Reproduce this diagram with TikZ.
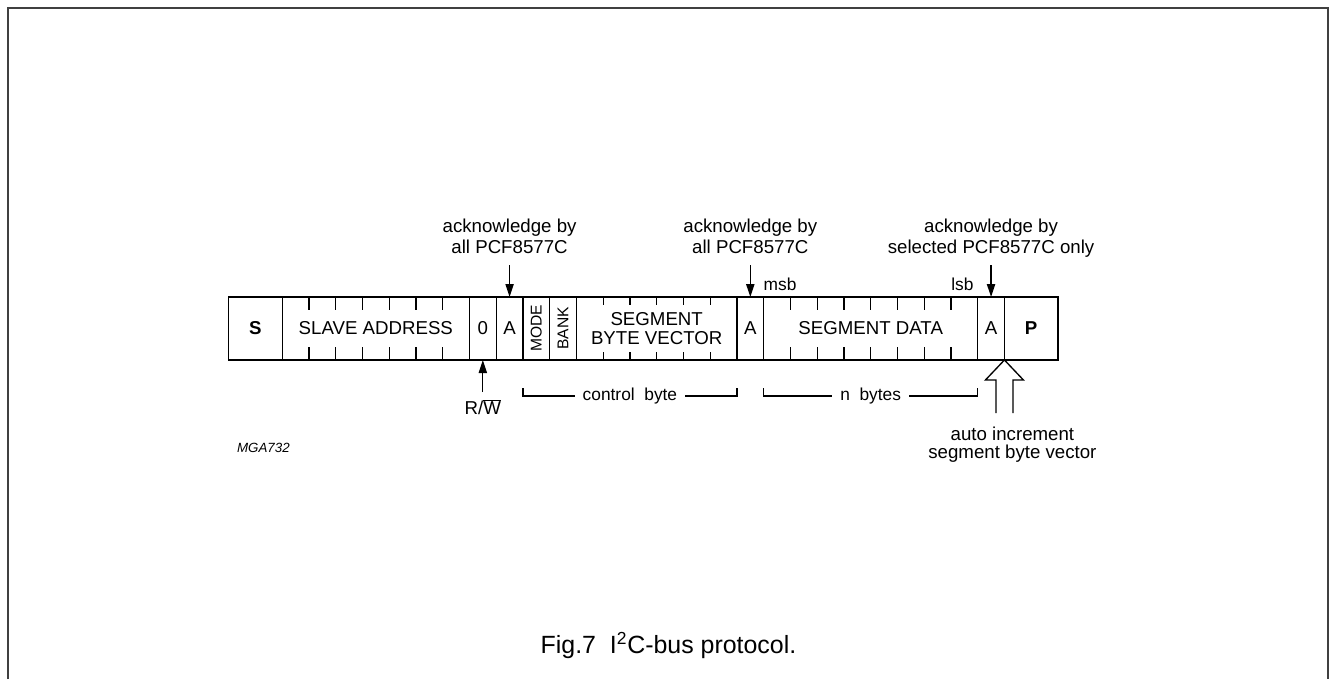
\documentclass[tikz,border=0pt]{standalone}
\usepackage{fontspec}
\setmainfont{Liberation Sans}
\usetikzlibrary{arrows.meta, positioning, calc}
\tikzstyle{cell} = [rectangle, draw=black, minimum height=47.25pt, inner sep=0pt, outer sep=0pt, font=\fontsize{14}{14}\selectfont]
\tikzstyle{note} = [inner sep=0pt, outer sep=0pt, align=center, text depth=0pt, font=\fontsize{14}{15.75}\selectfont]
\tikzstyle{small} = [inner sep=0pt, outer sep=0pt, font=\fontsize{13}{13}\selectfont]
\tikzstyle{gap} = [fill=white, inner xsep=6pt, inner ysep=0pt]
\tikzstyle{arr} = [-{Triangle[length=9.75pt, width=6.2pt]}]

\begin{document}
\begin{tikzpicture}[x=0.75pt, y=-0.75pt, line width=1pt]
\useasboundingbox (0,0) rectangle (1329,679);
\draw[black!75, line width=1.5pt] (8,679) -- (8,8) -- (1328,8) -- (1328,679);

% the bus frame
\node (s) [cell, minimum width=40.125pt, anchor=north west, font=\fontsize{14}{14}\selectfont\bfseries] at (228.7,297) {S};
\node (addr) [cell, minimum width=140.44pt, right=0pt of s] {SLAVE ADDRESS};
\node (zero) [cell, minimum width=20.06pt, right=0pt of addr] {0};
\node (a1) [cell, minimum width=20.06pt, right=0pt of zero] {A};
\node (mode) [cell, minimum width=20.06pt, right=0pt of a1, font=\fontsize{11.7}{11.7}\selectfont] {\rotatebox{90}{MODE}};
\node (bank) [cell, minimum width=20.06pt, right=0pt of mode, font=\fontsize{11.7}{11.7}\selectfont] {\rotatebox{90}{BANK}};
\node (sbv) [cell, minimum width=120.375pt, right=0pt of bank, align=center] {SEGMENT\\BYTE VECTOR};
\node (a2) [cell, minimum width=20.06pt, right=0pt of sbv] {A};
\node (data) [cell, minimum width=160.5pt, right=0pt of a2] {SEGMENT DATA};
\node (a3) [cell, minimum width=20.06pt, right=0pt of data] {A};
\node (p) [cell, minimum width=40.125pt, right=0pt of a3, font=\fontsize{14}{14}\selectfont\bfseries] {P};

% bit ticks
\foreach \i in {1,...,6} {
  \draw ([xshift=\i*20.0625pt]addr.north west) -- ++(0,13);
  \draw ([xshift=\i*20.0625pt]addr.south west) -- ++(0,-13);
}
\foreach \i in {1,...,5} {
  \draw ([xshift=\i*20.0625pt]sbv.north west) -- ++(0,8);
  \draw ([xshift=\i*20.0625pt]sbv.south west) -- ++(0,-8);
}
\foreach \i in {1,...,7} {
  \draw ([xshift=\i*20.0625pt]data.north west) -- ++(0,13);
  \draw ([xshift=\i*20.0625pt]data.south west) -- ++(0,-13);
}

% acknowledges
\node (ack1) [note, above=33pt of a1] {acknowledge by\\all PCF8577C};
\node (ack2) [note, above=33pt of a2] {acknowledge by\\all PCF8577C};
\node (ack3) [note, above=33pt of a3] {acknowledge by\\selected PCF8577C only};
\draw [arr, shorten <=9pt] (ack1) -- (a1);
\draw [arr, shorten <=9pt] (ack2) -- (a2);
\draw [arr, shorten <=9pt] (ack3) -- (a3);
\node (msb) [small, anchor=south west] at ([yshift=4.5pt]data.north west) {msb};
\node (lsb) [small, anchor=south east] at ([xshift=-3.2pt, yshift=4.5pt]data.north east) {lsb};

% read/write bit
\node (rw) [note, below=29.25pt of zero] {R/$\overline{\mbox{W}}$};
\draw [arr, shorten <=5.25pt] (rw) -- (zero);

% byte groups
\draw ([yshift=-21pt]mode.south west) -- ([yshift=-27pt]mode.south west) -- node[small, gap] {control\ \ byte} ([yshift=-27pt]sbv.south east) -- ([yshift=-21pt]sbv.south east);
\draw ([yshift=-21pt]data.south west) -- ([yshift=-27pt]data.south west) -- node[small, gap] {n\ \ bytes} ([yshift=-27pt]data.south east) -- ([yshift=-21pt]data.south east);

% auto increment
\coordinate (tip) at (a3.south east);
\draw (tip) -- ++(-19,20) -- ++(10.5,0) -- ++(0,33);
\draw (tip) -- ++(19,20) -- ++(-10.5,0) -- ++(0,33);
\node (autoinc) [note, below=50pt of tip, xshift=6pt, font=\fontsize{14}{13.5}\selectfont] {auto increment\\segment byte vector};

\node (code) [anchor=base west, font=\fontsize{10}{10}\selectfont\itshape] at (232,452) {MGA732};
\node (caption) [anchor=base, font=\fontsize{18.7}{18.7}\selectfont] at (668.5,653) {Fig.7\ \ I\textsuperscript{2}C-bus protocol.};
\end{tikzpicture}
\end{document}
